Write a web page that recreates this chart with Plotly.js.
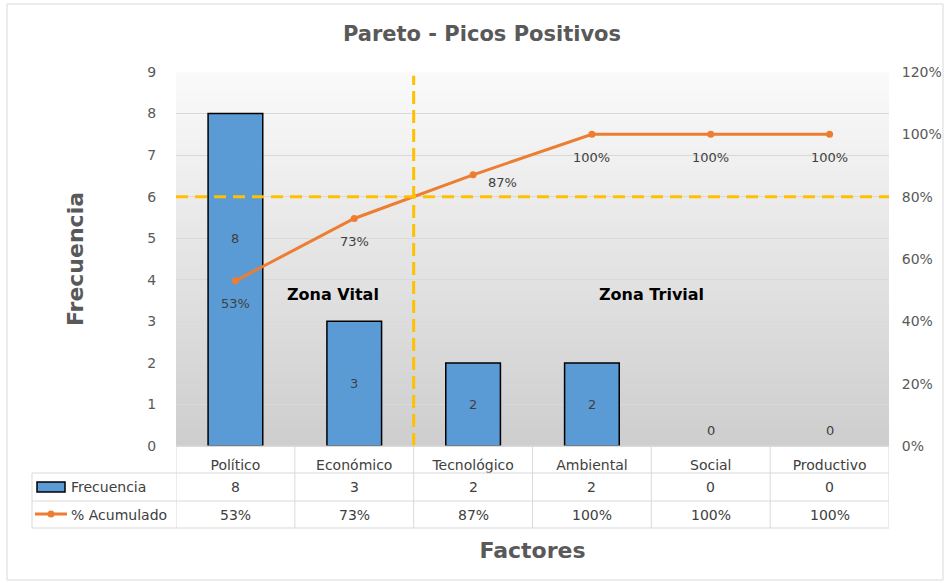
<!DOCTYPE html>
<html>
<head>
<meta charset="utf-8">
<script src="https://cdn.plot.ly/plotly-3.0.1.min.js"></script>
<style>html,body{margin:0;padding:0;background:#fff;}#chart{width:944px;height:583px;}</style>
</head>
<body>
<div id="chart"></div>
<script>
// ---- data ----
const categories = ["Político", "Económico", "Tecnológico", "Ambiental", "Social", "Productivo"];
const frecuencia = [8, 3, 2, 2, 0, 0];
const acumulado = [0.53, 0.73, 0.87, 1.00, 1.00, 1.00];
const acumuladoLabels = ["53%", "73%", "87%", "100%", "100%", "100%"];
const seriesNames = ["Frecuencia", "% Acumulado"];
const leftTicks = [0, 1, 2, 3, 4, 5, 6, 7, 8, 9];
const rightTicks = [0, 0.2, 0.4, 0.6, 0.8, 1.0, 1.2];
const umbral = 0.8;
const corte = 1.5;

const FONT = "'DejaVu Sans', sans-serif";
const GRAY = "#595959";
const DARK = "#404040";

const W = 944, H = 583;
const L = 176, R = 889, T = 72, B = 446;
// pixel -> paper (plot-area relative) coordinates
const px = x => (x - L) / (R - L);
const py = y => (B - y) / (B - T);

const shapes = [];
// gradient background in plot area
const N = 60;
for (let i = 0; i < N; i++) {
  const t = i / (N - 1);
  const c = Math.round(250 - t * (250 - 206));
  shapes.push({type: "rect", xref: "x domain", yref: "y domain", x0: 0, x1: 1,
    y0: 1 - i / N, y1: 1 - (i + 1) / N - 0.002, line: {width: 0},
    fillcolor: `rgb(${c},${c},${c})`, layer: "below"});
}
// outer chart border
shapes.push({type: "rect", xref: "paper", yref: "paper", x0: px(7), x1: px(943), y0: py(580), y1: py(4),
  line: {color: "#d9d9d9", width: 1}, fillcolor: "rgba(0,0,0,0)"});
// threshold lines
shapes.push({type: "line", xref: "x", yref: "y domain", x0: corte, x1: corte, y0: 0, y1: 0.99,
  line: {color: "#FFC000", width: 3, dash: "13px,6px"}});
shapes.push({type: "line", xref: "x domain", yref: "y2", x0: 0, x1: 1, y0: umbral, y1: umbral,
  line: {color: "#FFC000", width: 3, dash: "12px,7px"}});

// data table lines
const tl = "#d9d9d9";
const rowY = [B, 473, 501, 528];
shapes.push({type: "line", xref: "paper", yref: "paper", x0: 0, x1: 1, y0: 0, y1: 0, line: {color: tl, width: 1}});
for (let k = 1; k < rowY.length; k++) {
  shapes.push({type: "line", xref: "paper", yref: "paper", x0: px(32), x1: 1, y0: py(rowY[k]), y1: py(rowY[k]), line: {color: tl, width: 1}});
}
shapes.push({type: "line", xref: "paper", yref: "paper", x0: px(32), x1: px(32), y0: py(473), y1: py(528), line: {color: tl, width: 1}});
for (let i = 0; i <= categories.length; i++) {
  shapes.push({type: "line", xref: "x", yref: "paper", x0: i - 0.5, x1: i - 0.5, y0: 0, y1: py(528), line: {color: tl, width: 1}});
}
// legend keys
shapes.push({type: "rect", xref: "paper", yref: "paper", x0: px(37), x1: px(65), y0: py(492), y1: py(482),
  fillcolor: "#5B9BD5", line: {color: "#000", width: 1.5}});
shapes.push({type: "line", xref: "paper", yref: "paper", x0: px(35), x1: px(67), y0: py(514), y1: py(514),
  line: {color: "#ED7D31", width: 3}});
shapes.push({type: "circle", xref: "paper", yref: "paper", x0: px(47.5), x1: px(54.5), y0: py(517.5), y1: py(510.5),
  fillcolor: "#ED7D31", line: {color: "#ED7D31", width: 0}});

const annotations = [];
const lblFont = {family: FONT, size: 13, color: DARK};
// bar labels
frecuencia.forEach((v, i) => {
  annotations.push({x: categories[i], y: v / 2, xref: "x", yref: "y", text: String(v), showarrow: false,
    yanchor: "middle", yshift: v === 0 ? 16 : (i === 0 ? 41 : 0), font: lblFont});
});
// line labels
acumulado.forEach((v, i) => {
  const right = i === 2;
  annotations.push({x: categories[i], y: v, xref: "x", yref: "y2", text: acumuladoLabels[i], showarrow: false,
    yanchor: "middle", xshift: right ? 29 : 0, yshift: right ? -8 : -23, font: lblFont});
});
// zone labels
annotations.push({x: 0.82, y: 3.65, xref: "x", yref: "y", text: "<b>Zona Vital</b>", showarrow: false,
  yanchor: "middle", font: {family: FONT, size: 16, color: "#000"}});
annotations.push({x: 3.5, y: 3.65, xref: "x", yref: "y", text: "<b>Zona Trivial</b>", showarrow: false,
  yanchor: "middle", font: {family: FONT, size: 16, color: "#000"}});
// table rows
const tableFont = {family: FONT, size: 14, color: DARK};
annotations.push({x: px(69), y: py(487), xref: "paper", yref: "paper", xanchor: "left", yanchor: "middle",
  text: seriesNames[0], showarrow: false, font: tableFont});
annotations.push({x: px(69), y: py(515), xref: "paper", yref: "paper", xanchor: "left", yanchor: "middle",
  text: seriesNames[1], showarrow: false, font: tableFont});
categories.forEach((c, i) => {
  annotations.push({x: c, y: py(487), xref: "x", yref: "paper", yanchor: "middle", text: String(frecuencia[i]),
    showarrow: false, font: tableFont});
  annotations.push({x: c, y: py(515), xref: "x", yref: "paper", yanchor: "middle", text: acumuladoLabels[i],
    showarrow: false, font: tableFont});
});

const data = [
  {type: "bar", x: categories, y: frecuencia, name: seriesNames[0], width: 0.46,
    marker: {color: "#5B9BD5", line: {color: "#000", width: frecuencia.map(v => v > 0 ? 1.5 : 0)}}, hoverinfo: "x+y"},
  {type: "scatter", mode: "lines+markers", x: categories, y: acumulado, yaxis: "y2", name: seriesNames[1],
    line: {color: "#ED7D31", width: 3}, marker: {color: "#ED7D31", size: 7}}
];

const layout = {
  width: W, height: H,
  margin: {l: L, r: W - R, t: T, b: H - B, pad: 0},
  paper_bgcolor: "#fff", plot_bgcolor: "rgba(0,0,0,0)",
  showlegend: false,
  font: {family: FONT, color: GRAY},
  title: {text: "<b>Pareto - Picos Positivos</b>", x: 482 / W, xanchor: "center", y: 1 - 34 / H, yanchor: "middle",
    font: {family: FONT, size: 21, color: GRAY}},
  xaxis: {type: "category", range: [-0.5, 5.5], showgrid: false, zeroline: false, showline: false,
    ticks: "outside", ticklen: 6, tickcolor: "rgba(0,0,0,0)",
    tickfont: {family: FONT, size: 14, color: DARK}, automargin: false,
    title: {text: "<b>Factores</b>", standoff: 70, font: {family: FONT, size: 22, color: GRAY}}},
  yaxis: {range: [0, 9], tickvals: leftTicks, showgrid: true, gridcolor: "#d9d9d9", gridwidth: 1.2,
    zeroline: false, showline: false, ticks: "outside", ticklen: 16, tickcolor: "rgba(0,0,0,0)",
    tickfont: {family: FONT, size: 14, color: GRAY}, automargin: false,
    title: {text: "<b>Frecuencia</b>", standoff: 57, font: {family: FONT, size: 22, color: GRAY}}},
  yaxis2: {range: [0, 1.2], tickvals: rightTicks, tickformat: ".0%", overlaying: "y", side: "right",
    showgrid: false, zeroline: false, showline: false, ticks: "outside", ticklen: 9, tickcolor: "rgba(0,0,0,0)",
    tickfont: {family: FONT, size: 14, color: GRAY}, automargin: false},
  shapes: shapes,
  annotations: annotations
};

Plotly.newPlot("chart", data, layout, {displayModeBar: false, staticPlot: true});
</script>
</body>
</html>
